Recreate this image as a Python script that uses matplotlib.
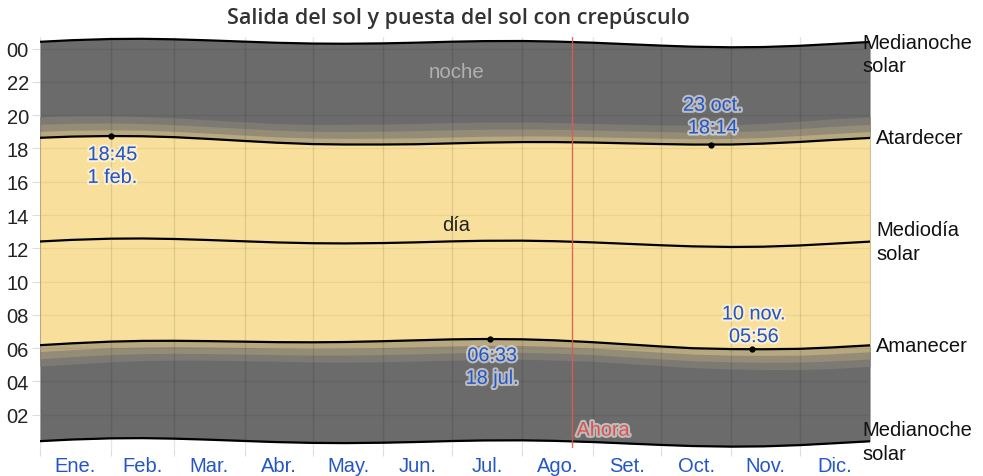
import matplotlib
matplotlib.use('Agg')
import numpy as np
import matplotlib.pyplot as plt
import matplotlib.patheffects as pe

plt.rcParams['font.family'] = ['Liberation Sans', 'DejaVu Sans']

# day of year for each sample (1 and 15 of each month)
days = [0, 14, 31, 45, 59, 73, 90, 104, 120, 134, 151, 165, 181, 195, 212, 226,
        243, 257, 273, 287, 304, 318, 334, 348, 365]
# hours (decimal)
noon = [12.412, 12.508, 12.580, 12.592, 12.562, 12.505, 12.422, 12.355, 12.307,
        12.295, 12.318, 12.358, 12.418, 12.453, 12.460, 12.430, 12.358, 12.277,
        12.185, 12.118, 12.082, 12.098, 12.172, 12.275, 12.403]
sunrise = [6.180, 6.290, 6.392, 6.437, 6.443, 6.426, 6.391, 6.362, 6.353, 6.370,
           6.419, 6.470, 6.529, 6.550, 6.533, 6.474, 6.359, 6.240, 6.103, 5.997,
           5.945, 5.935, 5.960, 6.041, 6.171]
sunset = [18.644, 18.715, 18.750, 18.735, 18.681, 18.584, 18.453, 18.348, 18.265,
          18.240, 18.240, 18.255, 18.307, 18.353, 18.387, 18.386, 18.357, 18.314,
          18.267, 18.236, 18.240, 18.294, 18.394, 18.509, 18.635]
# twilight lengths in minutes
civil_min = [23, 23, 22, 22, 21, 21, 21, 21, 22, 22, 23, 23, 23, 23, 22, 22, 21,
             21, 21, 21, 22, 22, 23, 23, 23]
naut_min = [49, 48, 47, 46, 45, 45, 45, 45, 46, 47, 48, 49, 49, 48, 47, 46, 45,
            45, 45, 45, 46, 47, 48, 49, 49]
astro_min = [76, 75, 73, 71, 70, 69, 69, 69, 71, 73, 74, 75, 75, 74, 72, 71, 69,
             69, 69, 70, 72, 73, 75, 76, 76]

month_starts = [0, 31, 59, 90, 120, 151, 181, 212, 243, 273, 304, 334, 365]
month_labels = ['Ene.', 'Feb.', 'Mar.', 'Abr.', 'May.', 'Jun.', 'Jul.', 'Ago.',
                'Set.', 'Oct.', 'Nov.', 'Dic.']
hour_ticks = [2, 4, 6, 8, 10, 12, 14, 16, 18, 20, 22, 24]
hour_labels = ['02', '04', '06', '08', '10', '12', '14', '16', '18', '20', '22', '00']

now_day = 234
# (day, hour, text, vertical offset in px)
extremes = [(31, 18.75, '18:45\n1 feb.', -30),
            (295, 18.233, '23 oct.\n18:14', 28),
            (198, 6.55, '06:33\n18 jul.', -28),
            (313, 5.933, '10 nov.\n05:56', 24)]

d = np.array(days)
noon = np.array(noon)
rise = np.array(sunrise)
sset = np.array(sunset)
civ = np.array(civil_min) / 60
nau = np.array(naut_min) / 60
ast = np.array(astro_min) / 60
mid_top = noon + 12
mid_bot = noon - 12

fig = plt.figure(figsize=(9.83, 4.77), dpi=100)
ax = fig.add_axes([0.0407, 0.0587, 0.8444, 0.8616])

ax.fill_between(d, mid_bot, mid_top, color='#6b6b6b', lw=0)
ax.fill_between(d, rise - ast, sset + ast, color='#7d7a74', lw=0)
ax.fill_between(d, rise - nau, sset + nau, color='#958c78', lw=0)
ax.fill_between(d, rise - civ, sset + civ, color='#b8a880', lw=0)
ax.fill_between(d, rise, sset, color='#f8e09c', lw=0)

for y in [mid_top, mid_bot, noon, rise, sset]:
    ax.plot(d, y, color='black', lw=1.6, zorder=3)

for m in month_starts:
    ax.axvline(m, color='black', alpha=0.1, lw=1, zorder=2)
for h in hour_ticks:
    ax.axhline(h, color='black', alpha=0.06, lw=1, zorder=2)

ax.axvline(now_day, color='#e05a4a', lw=1, alpha=0.9, zorder=4)

halo = [pe.withStroke(linewidth=3, foreground='white', alpha=0.55)]
for day, hr, txt, off in extremes:
    ax.plot(day, hr, 'o', color='black', ms=3.5, zorder=5)
    ax.annotate(txt, xy=(day, hr), xytext=(2, off), textcoords='offset pixels',
                ha='center', va='center', fontsize=14.3, color='#2456c6',
                linespacing=1.25, path_effects=halo, zorder=6)

ax.text(now_day, 0.5, ' Ahora', color='#d9534f', fontsize=14.3, ha='left',
        va='bottom', path_effects=halo, zorder=6)
ax.text(183, 22.6, 'noche', color='#b0b0b0', fontsize=14.8, ha='center', va='center')
ax.text(183, 13.45, 'día', color='#222222', fontsize=14.5, ha='center', va='center')

rkw = dict(textcoords='offset pixels', fontsize=14.5, color='#111111',
           annotation_clip=False, ha='left', linespacing=1.3)
ax.annotate('Medianoche\nsolar', xy=(365, mid_top[-1]), xytext=(-8, -12), va='center', **rkw)
ax.annotate('Atardecer', xy=(365, sset[-1]), xytext=(6, 0), va='center', **rkw)
ax.annotate('Mediodía\nsolar', xy=(365, noon[-1]), xytext=(6, 0), va='center', **rkw)
ax.annotate('Amanecer', xy=(365, rise[-1]), xytext=(6, 0), va='center', **rkw)
ax.annotate('Medianoche\nsolar', xy=(365, mid_bot[-1]), xytext=(-8, 0), va='center', **rkw)

ax.set_xlim(0, 365)
ax.set_ylim(0, 24.7)
ax.set_xticks(month_starts)
ax.set_xticklabels([])
ax.tick_params(axis='x', which='major', length=6, color='#dddddd')
centers = [(month_starts[i] + month_starts[i + 1]) / 2 for i in range(12)]
ax.set_xticks(centers, minor=True)
ax.set_xticklabels(month_labels, minor=True, fontsize=14.5, color='#2456c6')
ax.tick_params(axis='x', which='minor', length=0, pad=6)
ax.set_yticks(hour_ticks)
ax.set_yticklabels(hour_labels, fontsize=14.5, color='#222222')
ax.tick_params(axis='y', length=6, color='#dddddd', pad=2)
for s in ax.spines.values():
    s.set_visible(False)

fig.text(0.466, 0.962, 'Salida del sol y puesta del sol con crepúsculo',
         ha='center', va='center', fontsize=15.5, color='#333333',
         family='Open Sans', fontweight='semibold')

fig.savefig('out.png', dpi=100)
